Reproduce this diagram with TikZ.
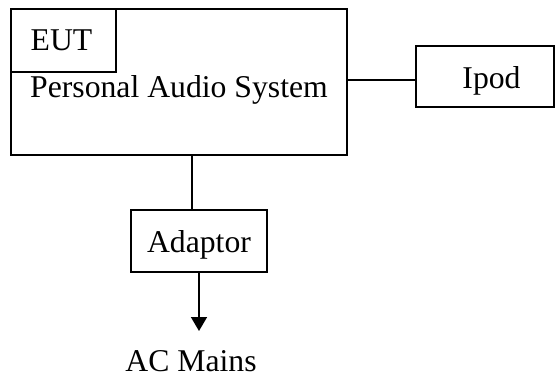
\documentclass[tikz,border=0pt]{standalone}
\usepackage{fontspec}
\setmainfont{Liberation Serif}
\usetikzlibrary{arrows.meta}

\begin{document}
\begin{tikzpicture}[x=1pt, y=-1pt, >={Triangle[width=16pt,length=14pt]},
    font=\fontsize{31.7}{38}\selectfont]

  \tikzstyle{unit}=[draw=black, line width=1.6pt, anchor=north west,
    inner sep=0, outer sep=0]
  \tikzstyle{caption}=[anchor=base, inner sep=0]

  \useasboundingbox (0,0) rectangle (555,378);

  \node [unit, minimum width=336, minimum height=146] (pas) at (11,9) {};
  \node [unit, minimum width=105, minimum height=63] (eut) at (11,9) {};
  \node [unit, minimum width=138, minimum height=61] (ipod) at (416,46) {};
  \node [unit, minimum width=136, minimum height=62] (adaptor) at (131,210) {};

  \node [caption] (eutlabel) at (61.5,50) {EUT};
  \node [caption] (paslabel) at (179,97) {Personal Audio System};
  \node [caption] (ipodlabel) at (491.5,88) {Ipod};
  \node [caption] (adaptorlabel) at (199,252) {Adaptor};
  \node [caption] (mains) at (191,371) {AC Mains};

  \coordinate (tip) at (199,331);

\draw [line width=1.6pt]
(pas.east |- 0,80) -- (ipod.west |- 0,80);

\draw [line width=1.6pt]
(pas.south -| 192,0) -- (adaptor.north -| 192,0);

\draw
[black, line width=1.6pt, ->]
(adaptor.south) to (tip);

\end{tikzpicture}
\end{document}
